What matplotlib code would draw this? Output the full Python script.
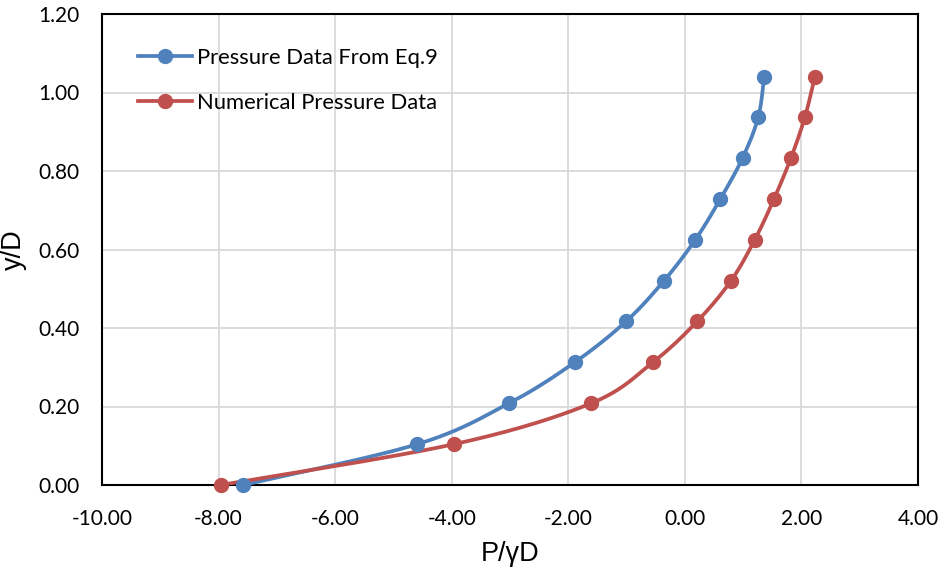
import numpy as np
import matplotlib
matplotlib.use("Agg")
import matplotlib.pyplot as plt
from matplotlib.lines import Line2D

# Data
y_vals = [0.0, 0.104, 0.208, 0.3125, 0.4167, 0.52, 0.625, 0.729, 0.833, 0.9375, 1.04]
eq9_x = [-7.58, -4.59, -3.02, -1.89, -1.01, -0.36, 0.18, 0.61, 0.99, 1.26, 1.36]
num_x = [-7.96, -3.96, -1.61, -0.55, 0.21, 0.79, 1.20, 1.53, 1.82, 2.06, 2.23]
labels = ["Pressure Data From Eq.9", "Numerical Pressure Data"]
colors = ["#4F81BD", "#C0504D"]
xticks = [-10, -8, -6, -4, -2, 0, 2, 4]
yticks = [0.0, 0.2, 0.4, 0.6, 0.8, 1.0, 1.2]


def smooth(x, y, n=40):
    # Catmull-Rom style smoothing (similar to Excel smoothed lines)
    x = np.asarray(x, float)
    y = np.asarray(y, float)
    P = np.column_stack([x, y])
    out = []
    m = len(P)
    for i in range(m - 1):
        p0 = P[i - 1] if i > 0 else P[i]
        p1 = P[i]
        p2 = P[i + 1]
        p3 = P[i + 2] if i + 2 < m else P[i + 1]
        c1 = p1 + (p2 - p0) / 6.0
        c2 = p2 - (p3 - p1) / 6.0
        t = np.linspace(0, 1, n)[:, None]
        seg = ((1 - t) ** 3) * p1 + 3 * ((1 - t) ** 2) * t * c1 + 3 * (1 - t) * t ** 2 * c2 + t ** 3 * p2
        out.append(seg if i == 0 else seg[1:])
    S = np.vstack(out)
    return S[:, 0], S[:, 1]


fig = plt.figure(figsize=(9.41, 5.71), dpi=100)
ax = fig.add_axes([102 / 941, 86 / 571, 816 / 941, 471 / 571])

tick_font = "Lato"
lw = 2.7
ms = 10
for xs, c in zip([eq9_x, num_x], colors):
    sx, sy = smooth(xs, y_vals)
    ax.plot(sx, sy, color=c, lw=lw, solid_capstyle="round", zorder=3)
    ax.plot(xs, y_vals, "o", color=c, ms=ms, zorder=4, clip_on=False)

ax.set_xlim(-10, 4)
ax.set_ylim(0, 1.2)
ax.set_xticks(xticks)
ax.set_yticks(yticks)
ax.set_xticklabels([f"{v:.2f}" for v in xticks], fontsize=15, family=tick_font)
ax.set_yticklabels([f"{v:.2f}" for v in yticks], fontsize=15, family=tick_font)
ax.tick_params(axis="x", length=0, pad=17)
ax.tick_params(axis="y", length=0, pad=16)
ax.grid(True, color="#D9D9D9", lw=1.3)
ax.set_axisbelow(True)
for s in ax.spines.values():
    s.set_color("black")
    s.set_linewidth(1.5)

ax.set_xlabel("P/γD", fontsize=19.5, family="Liberation Sans", labelpad=9)
ax.set_ylabel("y/D", fontsize=19.5, family="Liberation Sans", labelpad=8)

handles = [Line2D([0], [0], color=c, lw=lw, marker="o", ms=ms) for c in colors]
leg = ax.legend(handles, labels, loc="upper left", bbox_to_anchor=(0.0441, 0.928),
                borderaxespad=0, borderpad=0,
                frameon=False, handlelength=2.45, handletextpad=0.25, labelspacing=1.15,
                prop={"family": tick_font, "size": 15.8})

fig.savefig("out.png", dpi=100)
